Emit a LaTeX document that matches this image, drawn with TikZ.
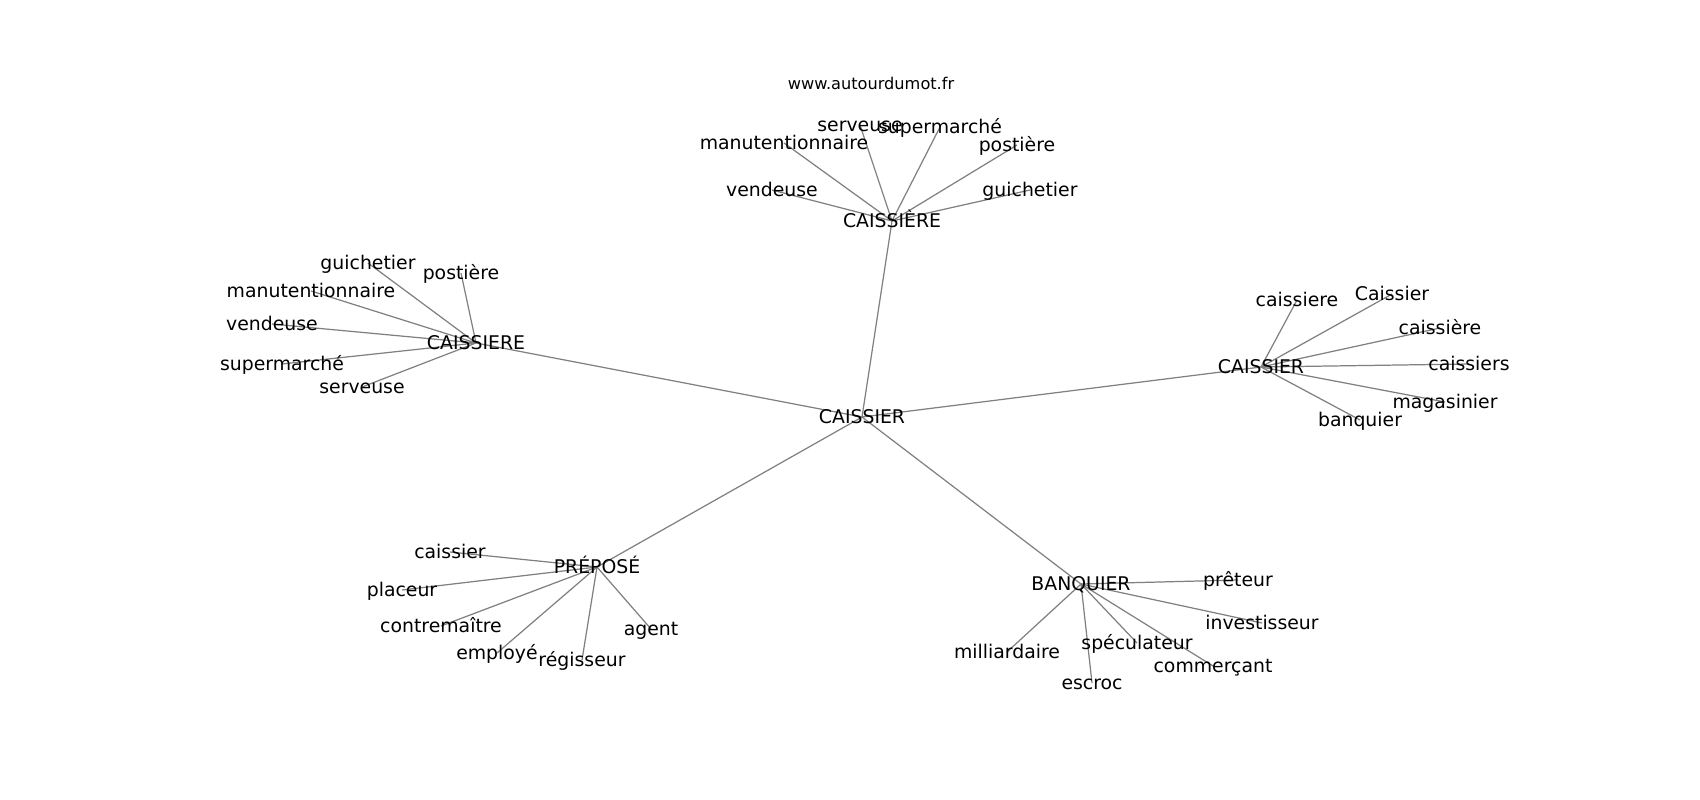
\documentclass[tikz,border=0pt]{standalone}
\usepackage{fontspec}
\setmainfont{DejaVu Sans}
\usetikzlibrary{backgrounds}

\tikzset{
    word/.style={inner sep=0pt, font=\fontsize{5.36pt}{6.4pt}\selectfont, text height=5.2pt, text depth=1.29pt},
    link/.style={draw={rgb,255:red,128;green,128;blue,128}, line width=0.35pt}
}

\begin{document}
\begin{tikzpicture}[x=0.01cm, y=-0.01cm]
    \useasboundingbox (0,0) rectangle (1700,800);
    \node (title) [inner sep=0pt, font=\fontsize{4.6pt}{5.5pt}\selectfont] at (871,83) {www.autourdumot.fr};

    % centre
    \node (c) [word] at (862,417) {CAISSIER};

    % CAISSIÈRE
    \node (t) [word] at (892,221) {CAISSIÈRE};
    \node (t1) [word] at (772,190) {vendeuse};
    \node (t2) [word] at (784,143) {manutentionnaire};
    \node (t3) [word] at (860,125) {serveuse};
    \node (t4) [word] at (940,127) {supermarché};
    \node (t5) [word] at (1017,145) {postière};
    \node (t6) [word] at (1030,190) {guichetier};

    % CAISSIERE
    \node (l) [word] at (476,343) {CAISSIERE};
    \node (l1) [word] at (368,263) {guichetier};
    \node (l2) [word] at (461,273) {postière};
    \node (l3) [word] at (311,291) {manutentionnaire};
    \node (l4) [word] at (272,324) {vendeuse};
    \node (l5) [word] at (282,364) {supermarché};
    \node (l6) [word] at (362,387) {serveuse};

    % CAISSIER
    \node (r) [word] at (1261,367) {CAISSIER};
    \node (r1) [word] at (1297,300) {caissiere};
    \node (r2) [word] at (1392,294) {Caissier};
    \node (r3) [word] at (1440,328) {caissière};
    \node (r4) [word] at (1469,364) {caissiers};
    \node (r5) [word] at (1445,402) {magasinier};
    \node (r6) [word] at (1360,420) {banquier};

    % PRÉPOSÉ
    \node (p) [word] at (597,567) {PRÉPOSÉ};
    \node (p1) [word] at (450,552) {caissier};
    \node (p2) [word] at (402,590) {placeur};
    \node (p3) [word] at (441,626) {contremaître};
    \node (p4) [word] at (497,653) {employé};
    \node (p5) [word] at (582,660) {régisseur};
    \node (p6) [word] at (651,629) {agent};

    % BANQUIER
    \node (b) [word] at (1081,584) {BANQUIER};
    \node (b1) [word] at (1238,580) {prêteur};
    \node (b2) [word] at (1262,623) {investisseur};
    \node (b3) [word] at (1137,643) {spéculateur};
    \node (b4) [word] at (1213,666) {commerçant};
    \node (b5) [word] at (1007,652) {milliardaire};
    \node (b6) [word] at (1092,683) {escroc};

    \begin{scope}[on background layer]
        \path [link]
            (c.center) edge (t.center)
            (c.center) edge (l.center)
            (c.center) edge (r.center)
            (c.center) edge (p.center)
            (c.center) edge (b.center);
        \foreach \g in {t,l,r,p,b}
            \foreach \i in {1,...,6}
                \path [link] (\g.center) edge (\g\i.center);
    \end{scope}
\end{tikzpicture}
\end{document}
